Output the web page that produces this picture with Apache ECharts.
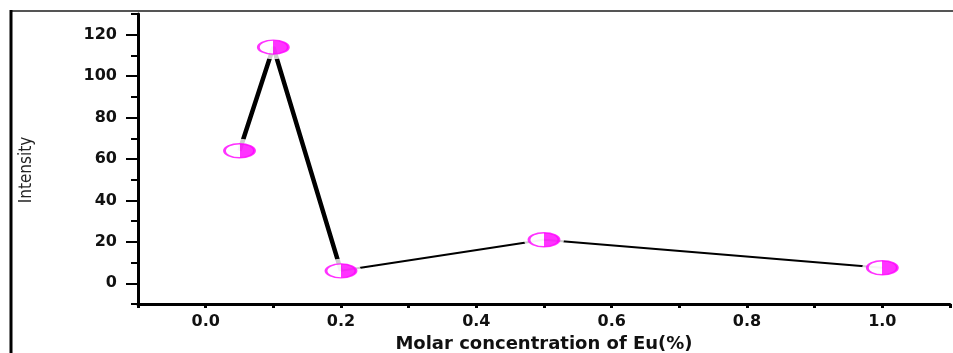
<!DOCTYPE html>
<html>
<head>
<meta charset="utf-8">
<script src="https://cdn.jsdelivr.net/npm/echarts@6/dist/echarts.min.js"></script>
<style>
  html, body { margin: 0; padding: 0; background: #fff; }
  #main { width: 953px; height: 353px; }
</style>
</head>
<body>
<div id="main"></div>
<script>
var chartDom = document.getElementById('main');
var myChart = echarts.init(chartDom);
var option;

// Data: Eu molar concentration (%) vs intensity
const concentration = [0.05, 0.1, 0.2, 0.5, 1.0];
const intensity = [64, 114, 6, 21, 7.5];
const yLabels = [0, 20, 40, 60, 80, 100, 120];

const points = concentration.map(function (c, i) { return [c, intensity[i]]; });
const thickPart = points.slice(0, 3);
const thinPart = points.slice(2);

const halfFill = new echarts.graphic.LinearGradient(1, 0, 0, 0, [
  { offset: 0, color: '#ff00ff' },
  { offset: 0.5, color: '#ff00ff' },
  { offset: 0.5, color: '#ffffff' },
  { offset: 1, color: '#ffffff' }
]);

const tickFont = {
  fontFamily: 'DejaVu Sans',
  fontWeight: 'bold',
  fontSize: 16,
  color: '#111'
};

option = {
  animation: false,
  backgroundColor: '#fff',
  graphic: [
    { type: 'line', shape: { x1: 10, y1: 11, x2: 953, y2: 11 }, style: { stroke: '#555', lineWidth: 2 } },
    { type: 'line', shape: { x1: 11, y1: 10, x2: 11, y2: 353 }, style: { stroke: '#000', lineWidth: 3 } }
  ],
  grid: {
    left: 138,
    right: 3,
    top: 14,
    bottom: 49,
    outerBoundsMode: 'none'
  },
  xAxis: {
    type: 'value',
    min: -0.1,
    max: 1.1,
    interval: 0.1,
    name: 'Molar concentration of Eu(%)',
    nameLocation: 'middle',
    nameGap: 30,
    nameTextStyle: {
      fontFamily: 'DejaVu Sans',
      fontWeight: 'bold',
      fontSize: 18,
      color: '#111'
    },
    splitLine: { show: false },
    axisLine: { onZero: false, lineStyle: { color: '#000', width: 3 } },
    axisTick: { length: 4, lineStyle: { color: '#000', width: 3 } },
    axisLabel: Object.assign({
      margin: 10,
      showMinLabel: true,
      showMaxLabel: true,
      formatter: function (v) {
        var k = Math.round(v * 10);
        return (k >= 0 && k % 2 === 0) ? (k / 10).toFixed(1) : '';
      }
    }, tickFont)
  },
  yAxis: [
    {
      type: 'value',
      min: -10,
      max: 130,
      interval: 10,
      name: 'Intensity',
      nameLocation: 'middle',
      nameRotate: 90,
      nameGap: 103,
      nameTextStyle: {
        fontFamily: 'Liberation Sans Narrow, DejaVu Sans Condensed, sans-serif',
        fontSize: 17,
        color: '#222',
        padding: [0, 22, 0, 0]
      },
      splitLine: { show: false },
      axisLine: { onZero: false, lineStyle: { color: '#000', width: 3 } },
      axisTick: { length: 7, lineStyle: { color: '#000', width: 2 } },
      axisLabel: Object.assign({
        margin: 21,
        formatter: function (v) {
          var r = Math.round(v);
          return yLabels.indexOf(r) >= 0 ? String(r) : '';
        }
      }, tickFont)
    },
    {
      type: 'value',
      position: 'left',
      min: -10,
      max: 130,
      splitLine: { show: false },
      axisLine: { show: false, onZero: false },
      axisTick: { customValues: yLabels, length: 12, lineStyle: { color: '#000', width: 2 } },
      axisLabel: { show: false }
    }
  ],
  series: [
    {
      name: 'thick',
      type: 'line',
      data: thickPart,
      symbol: 'none',
      lineStyle: { color: '#000', width: 4.5 },
      z: 2
    },
    {
      name: 'thin',
      type: 'line',
      data: thinPart,
      symbol: 'none',
      lineStyle: { color: '#000', width: 2 },
      z: 2
    },
    {
      name: 'gap',
      type: 'scatter',
      data: points,
      symbol: 'circle',
      symbolSize: [40, 24],
      itemStyle: { color: '#fff' },
      silent: true,
      z: 3
    },
    {
      name: 'Intensity',
      type: 'scatter',
      data: points,
      symbol: 'circle',
      symbolSize: [30, 14],
      itemStyle: {
        color: halfFill,
        borderColor: '#ff00ff',
        borderWidth: 2
      },
      z: 4
    }
  ]
};

option && myChart.setOption(option);
</script>
</body>
</html>
